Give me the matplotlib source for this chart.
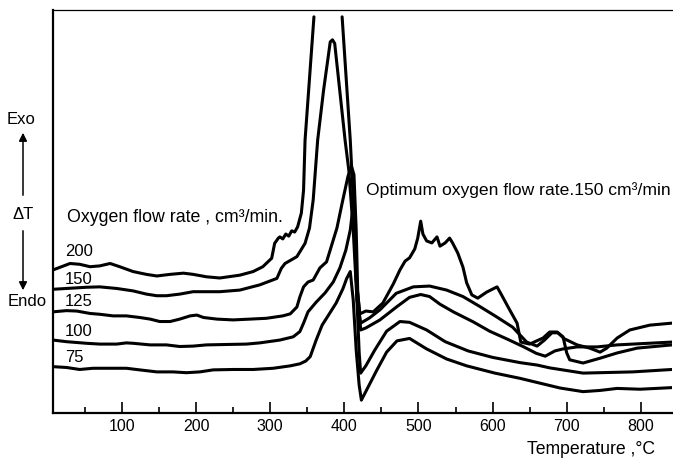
import numpy as np
import matplotlib
matplotlib.use('Agg')
import matplotlib.pyplot as plt
from matplotlib.ticker import MultipleLocator

plt.rcParams['font.family'] = ['Liberation Sans', 'DejaVu Sans']

nan = np.nan

# DTA traces: temperature (degC) and Delta T (arbitrary units, 0-100 = axis height)
## 200 cm3/min -- the exotherm runs off the top of the chart (gap)
t_200 = [7, 30, 43, 57, 70, 84, 97, 115, 133, 147, 165, 183, 196, 214, 232, 259, 277, 290, 302, 306,
         311, 313, 317, 321, 325, 329, 333, 337, 342, 345, 347, 359, nan, 397, 408, 412, 416, 421,
         429, 439, 452, 466, 475, 482, 488, 495, 499, 503, 506, 511, 518, 525, 529, 536, 542, 546,
         553, 560, 565, 572, 580, 592, 606, 610, 623, 633, 638, 650, 668, 677, 687, 695, 700, 704,
         722, 745, 768, 795, 842]
dt_200 = [35.5, 37.1, 36.9, 36.3, 36.5, 37.1, 36.3, 35.1, 34.4, 34.0, 34.4, 34.7, 34.4, 33.8, 33.5,
          34.2, 35.1, 36.3, 38.4, 42.1, 43.4, 43.7, 43.2, 44.4, 43.9, 45.2, 44.9, 46.2, 49.6, 55.3,
          67.7, 98.3, nan, 98.3, 67.7, 52.9, 33.0, 24.6, 25.3, 25.1, 27.3, 32.0, 35.5, 37.7, 38.5,
          40.7, 43.4, 47.6, 44.4, 42.7, 42.2, 43.7, 41.4, 42.2, 43.4, 42.2, 39.7, 36.2, 32.3, 29.3,
          28.5, 30.0, 31.3, 30.0, 25.6, 22.3, 17.6, 17.1, 18.6, 20.1, 20.1, 18.9, 14.9, 13.2, 12.4,
          13.6, 14.9, 16.1, 16.9]

## 150 cm3/min
t_150 = [7, 25, 52, 70, 93, 115, 133, 147, 160, 178, 196, 214, 232, 259, 286, 309, 315, 320, 336, 347,
         353, 358, 364, 372, 381, 384, 387, 394, 401, 406, 412, 417, 422,
         434, 448, 470, 493, 515, 538, 560, 583, 605, 627, 646, 660, 670, 680, 688, 697, 714, 731,
         745, 754, 768, 785, 812, 842]
dt_150 = [30.7, 30.9, 31.2, 31.3, 30.9, 30.3, 29.5, 29.1, 29.1, 29.5, 30.1, 30.1, 30.1, 30.5, 31.8,
          33.4, 35.9, 37.1, 38.8, 42.1, 45.9, 52.9, 67.7, 80.1, 92.1, 92.6, 91.7, 79.7, 67.7, 60.3,
          45.4, 28.0, 22.3,
          23.6, 25.6, 29.7, 31.3, 31.5, 30.5, 28.9, 26.4, 23.9, 21.3, 17.6, 16.6, 18.1, 19.9, 19.9,
          18.4, 16.9, 16.1, 15.1, 16.1, 18.6, 20.6, 21.8, 22.3]

## 125 cm3/min
t_125 = [7, 25, 39, 57, 70, 88, 106, 124, 138, 151, 165, 178, 192, 201, 210, 228, 250, 273, 295, 317,
         327, 336, 340, 345, 351, 358, 367, 376, 385, 390, 398, 405, 410, 413, 416, 418, 422,
         429, 448, 471, 488, 503, 515, 529, 547, 574, 596, 619, 641, 659, 671, 684, 695, 714, 741,
         768, 842]
dt_125 = [25.1, 25.4, 25.3, 24.7, 24.5, 24.1, 24.1, 23.7, 23.3, 22.7, 22.7, 23.3, 24.1, 24.3, 23.7,
          23.3, 23.1, 23.3, 23.5, 24.1, 24.6, 26.3, 28.8, 31.3, 32.5, 33.0, 36.0, 37.5, 42.9, 45.9,
          52.9, 58.8, 61.0, 59.1, 45.4, 30.5, 20.6,
          21.1, 23.1, 26.4, 28.7, 29.4, 28.9, 27.0, 25.1, 22.6, 20.3, 18.4, 16.5, 14.8, 14.1, 15.4,
          15.9, 16.4, 16.4, 16.9, 17.6]

## 100 cm3/min
t_100 = [7, 25, 52, 70, 93, 106, 115, 138, 160, 178, 196, 214, 241, 268, 286, 313, 331, 340, 345, 351,
         362, 374, 385, 394, 402, 408, 412, 414, 417, 420, 422,
         429, 441, 457, 475, 488, 511, 536, 567, 600, 637, 660, 677, 722, 789, 842]
dt_100 = [18.1, 17.7, 17.3, 17.1, 17.1, 17.4, 17.3, 16.9, 16.9, 16.5, 16.6, 16.9, 17.0, 17.1, 17.4,
          18.1, 18.9, 20.2, 22.3, 25.1, 27.5, 29.8, 32.5, 36.0, 40.4, 45.4, 51.6, 45.4, 28.0, 15.0,
          9.9,
          11.7, 15.6, 20.3, 22.7, 22.5, 20.6, 17.7, 15.4, 13.8, 12.5, 11.9, 11.2, 9.9, 10.2, 10.8]

## 75 cm3/min
t_75 = [7, 25, 43, 61, 84, 106, 124, 147, 169, 187, 205, 223, 250, 277, 304, 327, 340, 348, 354, 362,
        370, 378, 389, 398, 403, 408, 412, 416, 420, 423,
        430, 444, 457, 471, 488, 511, 538, 565, 603, 637, 664, 691, 722, 745, 768, 799, 842]
dt_75 = [11.5, 11.3, 10.8, 11.1, 11.1, 11.1, 10.7, 10.2, 10.2, 10.0, 10.2, 10.7, 10.8, 10.8, 11.1,
         11.7, 12.2, 12.9, 14.0, 18.1, 21.8, 24.1, 27.3, 30.8, 33.3, 35.1, 28.0, 15.6, 6.9, 3.2,
         5.7, 10.7, 15.1, 17.9, 18.5, 15.9, 13.4, 11.7, 9.9, 8.6, 7.4, 6.2, 5.3, 5.6, 6.1, 5.9, 6.3]

flow_labels = ['200', '150', '125', '100', '75']


W, H = 673, 459
fig = plt.figure(figsize=(W / 100, H / 100), dpi=100)
ax = fig.add_axes([53 / W, 46 / H, 619 / W, 403 / H])

for t, d in [(t_200, dt_200), (t_150, dt_150), (t_125, dt_125), (t_100, dt_100), (t_75, dt_75)]:
    ax.plot(t, d, color='black', lw=2.2, solid_joinstyle='round', solid_capstyle='round')

ax.set_xlim(7, 842)
ax.set_ylim(0, 100)
ax.set_yticks([])
ax.spines['right'].set_visible(False)
ax.spines['left'].set_linewidth(1.6)
ax.spines['bottom'].set_linewidth(1.6)
ax.spines['top'].set_linewidth(0.9)

ax.xaxis.set_major_locator(MultipleLocator(100))
ax.xaxis.set_minor_locator(MultipleLocator(50))
ax.tick_params(axis='x', which='major', direction='in', length=8, width=1.2, labelsize=11.5, pad=4)
ax.tick_params(axis='x', which='minor', direction='in', length=4.5, width=1.2)

# curve labels at the left end of each trace
for lab, y in zip(flow_labels, [252, 279, 302, 332, 358]):
    fig.text(65 / W, 1 - y / H, lab, fontsize=12, ha='left', va='center')

fig.text(67 / W, 1 - 217 / H, 'Oxygen flow rate , cm\u00b3/min.', fontsize=12.8, ha='left', va='center')
fig.text(366 / W, 1 - 190 / H, 'Optimum oxygen flow rate.150 cm\u00b3/min', fontsize=12.6,
         ha='left', va='center')
fig.text(527 / W, 1 - 450 / H, 'Temperature ,\u00b0C', fontsize=12.7, ha='left', va='center')

# Exo / dT / Endo arrows left of the axis
fig.text(21 / W, 1 - 120 / H, 'Exo', fontsize=12, ha='center', va='center')
fig.text(23 / W, 1 - 214 / H, '\u0394T', fontsize=12, ha='center', va='center')
fig.text(27 / W, 1 - 302 / H, 'Endo', fontsize=12, ha='center', va='center')
ax.annotate('', xy=(23 / W, 1 - 130 / H), xytext=(23 / W, 1 - 198 / H), xycoords='figure fraction',
            arrowprops=dict(arrowstyle='-|>', color='black', lw=1.1, mutation_scale=12))
ax.annotate('', xy=(23 / W, 1 - 293 / H), xytext=(23 / W, 1 - 228 / H), xycoords='figure fraction',
            arrowprops=dict(arrowstyle='-|>', color='black', lw=1.1, mutation_scale=12))

fig.savefig('out.png', dpi=100)
